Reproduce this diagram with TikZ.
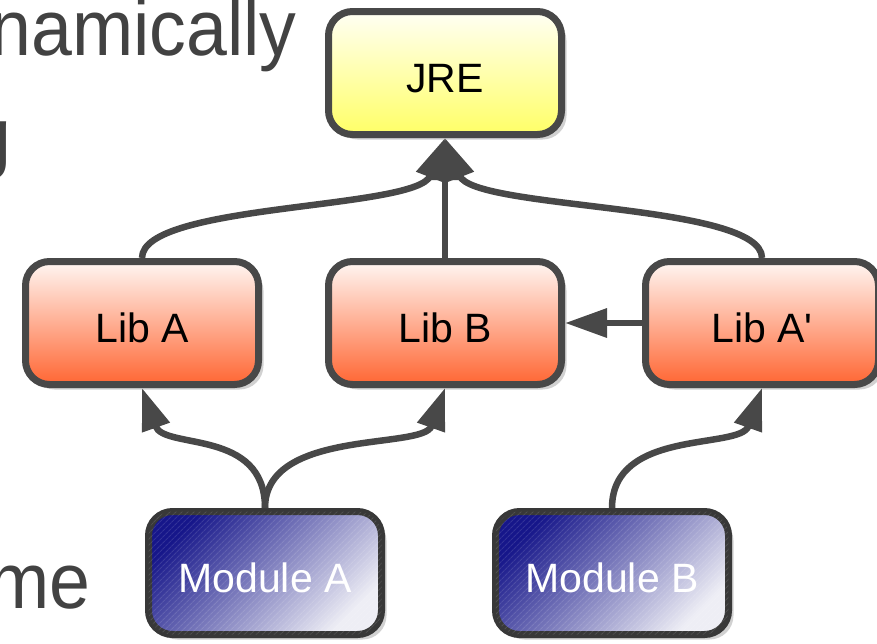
\documentclass[tikz,border=0pt]{standalone}
\usepackage{fontspec}
\setmainfont{Liberation Sans}[Ligatures=TeXOff]
\newfontfamily\slidefont[FakeStretch=0.93]{Liberation Sans}
\usetikzlibrary{arrows.meta,shadows,patterns.meta}

\definecolor{linegray}{HTML}{484848}
\definecolor{textgray}{HTML}{424242}
\definecolor{jretop}{HTML}{FFFFF4}
\definecolor{jrebottom}{HTML}{FFFF66}
\definecolor{libtop}{HTML}{FFF6F2}
\definecolor{libbottom}{HTML}{FF6633}
\definecolor{moddark}{HTML}{16168A}
\definecolor{modmid}{HTML}{7474BA}
\definecolor{modlight}{HTML}{EEEEF5}

\tikzset{
  box/.style={draw=linegray, line width=7pt, rounded corners=24pt,
    minimum width=233pt, minimum height=123pt,
    font=\fontsize{41}{48}\selectfont, text height=38pt, text depth=0pt,
    drop shadow={shadow xshift=5pt, shadow yshift=-5pt, fill=black!18, opacity=1}},
  jrebox/.style={box, top color=jretop, bottom color=jrebottom},
  libbox/.style={box, top color=libtop, bottom color=libbottom},
  modbox/.style={box, text=white, draw=black!78,
    top color=moddark, middle color=modmid, bottom color=modlight, shading angle=45,
    postaction={pattern={Lines[angle=45,distance=4pt,line width=1.2pt]}, pattern color=white, opacity=0.12}},
  conn/.style={draw=linegray, line width=6.5pt, -{Triangle[length=42pt,width=28pt]}},
  slidetext/.style={font=\slidefont\fontsize{79}{90}\selectfont, text=textgray, inner sep=0pt}
}

\begin{document}
\begin{tikzpicture}[x=1pt,y=-1pt]
  \useasboundingbox (0,0) rectangle (877,643);
  \clip (0,0) rectangle (877,643);

  % text of the slide behind the picture
  \node[slidetext, anchor=base east] (txtdyn) at (297,55) {dynamically};
  \node[slidetext, anchor=base east] (txtload) at (12,163) {loading};
  \node[slidetext, anchor=base east] (txtrun) at (91,608) {runtime};

  % boxes
  \node[jrebox] (jre) at (445,73) {JRE};
  \node[libbox] (libA) at (142,323) {Lib A};
  \node[libbox] (libB) at (445,323) {Lib B};
  \node[libbox] (libAp) at (762,323) {Lib A'};
  \node[modbox] (modA) at (265,573) {Module A};
  \node[modbox] (modB) at (612,573) {Module B};

  % dependencies
  \draw[conn] (libA.north) .. controls +(0,-55) and +(-28,72) .. (jre.south);
  \draw[conn] (libB.north) -- (jre.south);
  \draw[conn] (libAp.north) .. controls +(0,-55) and +(28,72) .. (jre.south);
  \draw[conn] (libAp.west) -- (libB.east);
  \draw[conn] (modA.north) .. controls +(0,-80) and +(22,62) .. (libA.south);
  \draw[conn] (modA.north) .. controls +(0,-80) and +(-22,62) .. (libB.south);
  \draw[conn] (modB.north) .. controls +(0,-80) and +(-22,62) .. (libAp.south);
\end{tikzpicture}
\end{document}
